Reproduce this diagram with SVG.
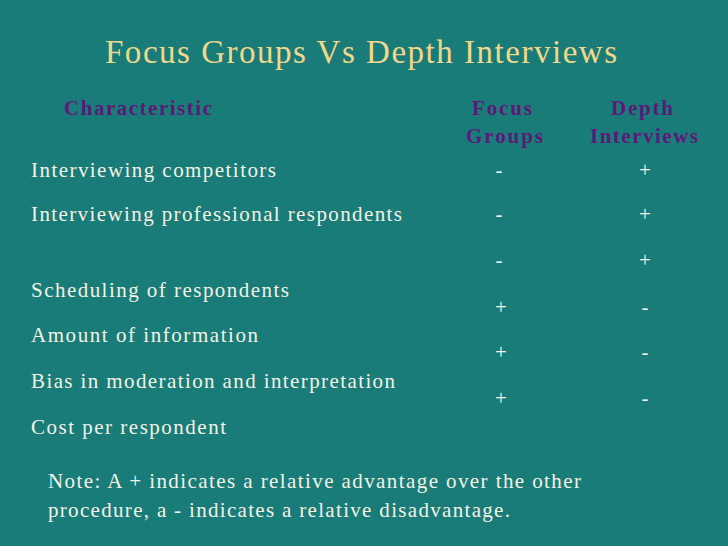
<svg xmlns="http://www.w3.org/2000/svg" width="728" height="546" viewBox="0 0 728 546">
<style>
.t{font-family:"Liberation Serif",serif;fill:#f2f2e6;font-size:21px}
.h{font-family:"Liberation Serif",serif;fill:#5b1a78;font-size:21px;font-weight:bold}
.c{text-anchor:middle}
</style>
<rect width="728" height="546" fill="#1a7c78"/>
<text x="105" y="63" textLength="512" lengthAdjust="spacing" style="font-family:'Liberation Serif',serif;font-size:33px;fill:#f0d88a">Focus Groups Vs Depth Interviews</text>
<text x="64" y="115" class="h" textLength="148" lengthAdjust="spacing">Characteristic</text>
<text x="472" y="115" class="h" textLength="60" lengthAdjust="spacing">Focus</text>
<text x="466" y="143" class="h" textLength="77" lengthAdjust="spacing">Groups</text>
<text x="611" y="115" class="h" textLength="62" lengthAdjust="spacing">Depth</text>
<text x="590" y="143" class="h" textLength="108" lengthAdjust="spacing">Interviews</text>
<text x="31" y="177" class="t" textLength="245" lengthAdjust="spacing">Interviewing competitors</text>
<text x="31" y="221" class="t" textLength="371" lengthAdjust="spacing">Interviewing professional respondents</text>
<text x="31" y="297" class="t" textLength="258" lengthAdjust="spacing">Scheduling of respondents</text>
<text x="31" y="342" class="t" textLength="227" lengthAdjust="spacing">Amount of information</text>
<text x="31" y="388" class="t" textLength="364" lengthAdjust="spacing">Bias in moderation and interpretation</text>
<text x="31" y="434" class="t" textLength="195" lengthAdjust="spacing">Cost per respondent</text>
<g>
<text x="499" y="177" class="t c">-</text><text x="645" y="177" class="t c">+</text>
<text x="499" y="221" class="t c">-</text><text x="645" y="221" class="t c">+</text>
<text x="499" y="267" class="t c">-</text><text x="645" y="267" class="t c">+</text>
<text x="501" y="314" class="t c">+</text><text x="645" y="314" class="t c">-</text>
<text x="501" y="359" class="t c">+</text><text x="645" y="359" class="t c">-</text>
<text x="501" y="405" class="t c">+</text><text x="645" y="405" class="t c">-</text>
</g>
<text x="48" y="488" class="t" textLength="533" lengthAdjust="spacing">Note: A + indicates a relative advantage over the other</text>
<text x="48" y="517" class="t" textLength="462" lengthAdjust="spacing">procedure, a - indicates a relative disadvantage.</text>
</svg>
